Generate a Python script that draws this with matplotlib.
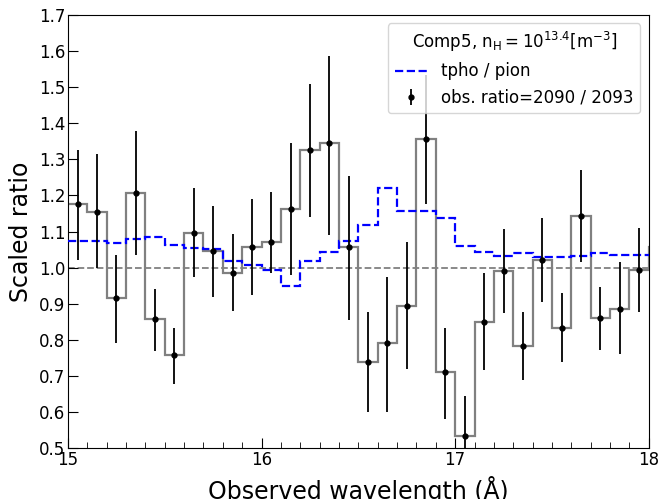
import numpy as np
import matplotlib
matplotlib.use("Agg")
import matplotlib.pyplot as plt
from matplotlib.ticker import MultipleLocator
from matplotlib.lines import Line2D

# bin centers (Angstrom)
wave = [15.05, 15.15, 15.25, 15.35, 15.45, 15.55, 15.65, 15.75, 15.85, 15.95,
        16.05, 16.15, 16.25, 16.35, 16.45, 16.55, 16.65, 16.75, 16.85, 16.95,
        17.05, 17.15, 17.25, 17.35, 17.45, 17.55, 17.65, 17.75, 17.85, 17.95, 18.05]
obs = [1.175, 1.155, 0.915, 1.207, 0.857, 0.757, 1.097, 1.047, 0.985, 1.056,
       1.070, 1.162, 1.327, 1.345, 1.057, 0.738, 0.790, 0.894, 1.355, 0.710,
       0.533, 0.850, 0.990, 0.783, 1.022, 0.834, 1.144, 0.860, 0.886, 0.993, 1.057]
err_lo = [0.155, 0.155, 0.125, 0.172, 0.087, 0.079, 0.122, 0.127, 0.105, 0.131,
          0.085, 0.182, 0.187, 0.255, 0.202, 0.138, 0.190, 0.174, 0.179, 0.128,
          0.075, 0.134, 0.117, 0.093, 0.117, 0.096, 0.128, 0.087, 0.126, 0.116, 0.12]
err_hi = [0.150, 0.160, 0.120, 0.171, 0.083, 0.075, 0.123, 0.125, 0.108, 0.134,
          0.140, 0.183, 0.183, 0.240, 0.198, 0.139, 0.185, 0.176, 0.178, 0.123,
          0.112, 0.134, 0.117, 0.093, 0.116, 0.095, 0.126, 0.087, 0.130, 0.117, 0.12]
model = [1.075, 1.075, 1.069, 1.078, 1.084, 1.063, 1.055, 1.051, 1.018, 1.008,
         0.993, 0.950, 1.018, 1.044, 1.075, 1.118, 1.220, 1.157, 1.157, 1.138,
         1.061, 1.044, 1.031, 1.040, 1.030, 1.030, 1.033, 1.040, 1.034, 1.034, 1.034]

wave = np.array(wave)
obs = np.array(obs)
model = np.array(model)
edges = np.append(wave - 0.05, wave[-1] + 0.05)

fig = plt.figure(figsize=(6.6, 4.99), dpi=100)
ax = fig.add_axes([0.103, 0.102, 0.880, 0.868])

ax.axhline(1.0, color="gray", ls="--", lw=1.3, zorder=1)
ax.stairs(obs, edges, baseline=None, color="gray", lw=1.6, zorder=2)
ax.stairs(model, edges, baseline=None, color="blue", ls="--", lw=1.6, zorder=3)
eb = ax.errorbar(wave, obs, yerr=[err_lo, err_hi], fmt="o", color="black", ms=3.5,
                 elinewidth=1.3, capsize=0, zorder=4)

ax.set_xlim(15, 18)
ax.set_ylim(0.5, 1.7)
ax.xaxis.set_major_locator(MultipleLocator(1))
ax.xaxis.set_minor_locator(MultipleLocator(0.1))
ax.yaxis.set_major_locator(MultipleLocator(0.1))
ax.tick_params(which="both", direction="in", labelsize=12, pad=2)
ax.tick_params(which="major", length=7)
ax.tick_params(which="minor", length=4)

ax.set_xlabel("Observed wavelength (Å)", fontsize=17, labelpad=5)
ax.set_ylabel("Scaled ratio", fontsize=17)

h_model = Line2D([], [], color="blue", ls="--", lw=1.6)
ax.legend([h_model, eb], ["tpho / pion", "obs. ratio=2090 / 2093"],
          loc="upper right", fontsize=12, title_fontsize=12,
          title=r"Comp5, $\mathrm{n_H} = 10^{13.4}[\mathrm{m^{-3}}]$",
          borderaxespad=0.5)

fig.savefig("out.png", dpi=100)
